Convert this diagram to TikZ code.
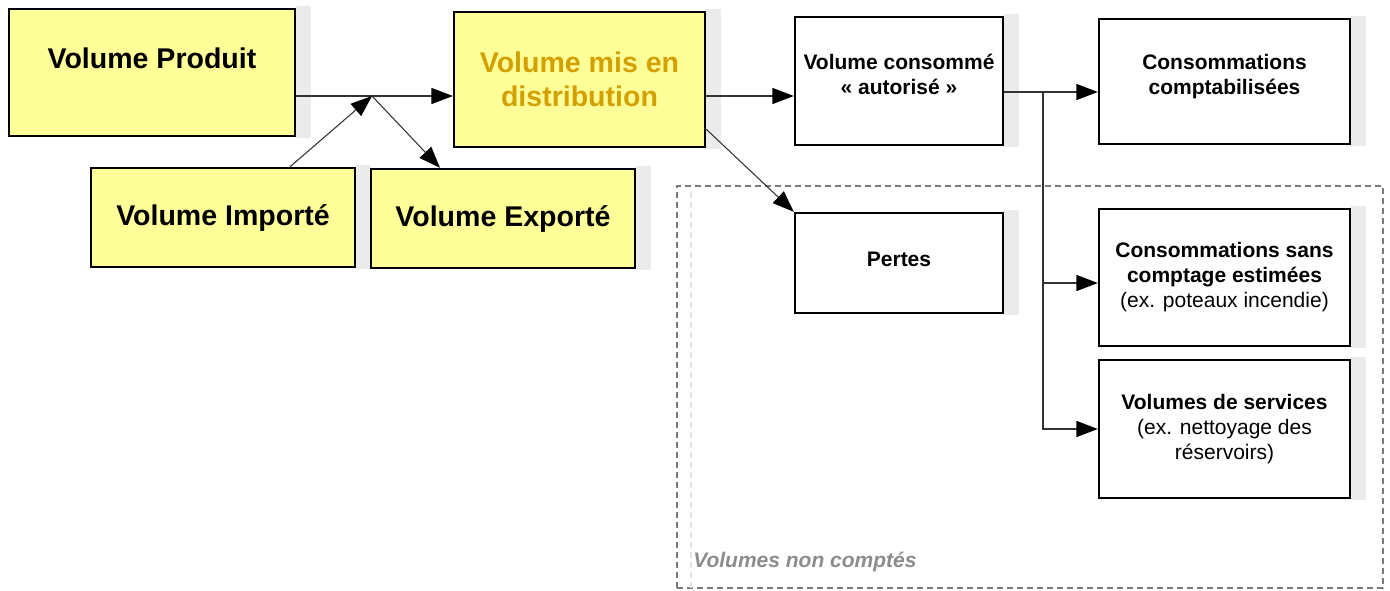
\documentclass[tikz,border=0pt]{standalone}
\usepackage{fontspec}
\setmainfont{Liberation Sans}
\usetikzlibrary{arrows.meta,calc}
\definecolor{boxyellow}{HTML}{FFFF99}
\definecolor{goldtext}{HTML}{D4A000}
\definecolor{shadowgray}{HTML}{EBEBEB}
\definecolor{grouplabel}{HTML}{8C8C8C}
\definecolor{groupline}{HTML}{7A7A7A}
\definecolor{innerline}{HTML}{E2E2E2}
\definecolor{connline}{HTML}{333333}
\pgfdeclarelayer{background}
\pgfsetlayers{background,main}
\newcommand\boxshadow[1]{\fill[shadowgray] ($(#1.north east)+(0,-2)$) rectangle ($(#1.south east)+(15,1)$);}
\begin{document}
\begin{tikzpicture}[x=0.75pt,y=-0.75pt,
  box/.style={draw=black, line width=1.8pt, fill=white, inner sep=0pt, align=center},
  ybox/.style={box, fill=boxyellow},
  big/.style={font=\fontsize{21.4pt}{25.5pt}\selectfont\bfseries, align=center, inner sep=0pt},
  small/.style={font=\fontsize{15.75pt}{18.75pt}\selectfont, align=center, inner sep=0pt},
  smallb/.style={font=\fontsize{15.75pt}{18.75pt}\selectfont\bfseries, align=center, inner sep=0pt},
  conn/.style={draw=connline, line width=0.8pt},
  arr/.style={conn, -{Triangle[length=16pt,width=12pt,color=black]}},
  grp/.style={draw=groupline, line width=1.5pt, dash pattern=on 4.5pt off 3pt, inner sep=0pt},
]
\useasboundingbox (0,0) rectangle (1390,590);

% group of uncounted volumes
\node[grp, minimum width=529.5pt, minimum height=301.5pt] (group) at (1030,387) {};
\draw[draw=innerline, line width=1.2pt, dash pattern=on 4.5pt off 3pt] ($(group.north west)+(15,7)$) coordinate (gi) -- (gi |- group.south);
\node[anchor=west, inner sep=0pt, text=grouplabel, font=\fontsize{15.75pt}{18pt}\selectfont\bfseries\itshape] (grouplbl) at (693,562) {Volumes non comptés};

% yellow boxes
\node[ybox, minimum width=214.5pt, minimum height=95.25pt] (prod) at (152,72.5) {};
\node[big] (prodtxt) at ($(prod.center)+(0,-14.5)$) {Volume Produit};
\node[ybox, big, minimum width=198pt, minimum height=74.25pt] (imp) at (223,217.5) {Volume Importé};
\node[ybox, big, minimum width=198pt, minimum height=74.25pt] (exp) at (503,218.5) {Volume Exporté};
\node[ybox, big, text=goldtext, minimum width=188.25pt, minimum height=101.25pt] (dist) at (579.5,79.5) {Volume mis en\\distribution};

% white boxes
\node[box, minimum width=156pt, minimum height=96pt] (cons) at (899,81) {};
\node[smallb] (constxt) at ($(cons.center)+(0,-6.5)$) {Volume consommé\\« autorisé »};
\node[box, minimum width=188.25pt, minimum height=93.75pt] (compt) at (1224.5,81.5) {};
\node[smallb] (compttxt) at ($(compt.center)+(0,-5)$) {Consommations\\comptabilisées};
\node[box, minimum width=156pt, minimum height=75pt] (pertes) at (899,263) {};
\node[smallb] (pertestxt) at ($(pertes.center)+(0,-4)$) {Pertes};
\node[box, small, minimum width=188.25pt, minimum height=102.75pt] (sans) at (1224.5,277.5) {\textbf{Consommations sans}\\\textbf{comptage estimées}\\(ex. poteaux incendie)};
\node[box, small, minimum width=188.25pt, minimum height=103.5pt] (serv) at (1224.5,429) {\textbf{Volumes de services}\\(ex. nettoyage des\\réservoirs)};

% shadows
\begin{pgfonlayer}{background}
\boxshadow{prod}
\boxshadow{imp}
\boxshadow{exp}
\boxshadow{dist}
\boxshadow{cons}
\boxshadow{compt}
\boxshadow{pertes}
\boxshadow{sans}
\boxshadow{serv}
\end{pgfonlayer}

% connectors
\coordinate (J) at (372,96);
\draw[arr] (prod.east |- J) -- (dist.west |- J);
\draw[arr] ($(imp.north)+(67,0)$) -- (J);
\draw[arr] (J) -- ($(exp.north)+(-63,0)$);
\draw[arr] ($(dist.east)+(0,16.5)$) coordinate (d1) -- (cons.west |- d1);
\draw[arr] ($(dist.south east)+(0,-19)$) -- (pertes.north west);
\coordinate (B) at (1043,92);
\coordinate (B2) at (1043,283);
\draw[conn] (cons.east |- B) -- (B);
\draw[arr] (B) -- (compt.west |- B);
\draw[arr] (B) |- (serv.west);
\draw[arr] (B2) -- (sans.west |- B2);
\end{tikzpicture}
\end{document}
